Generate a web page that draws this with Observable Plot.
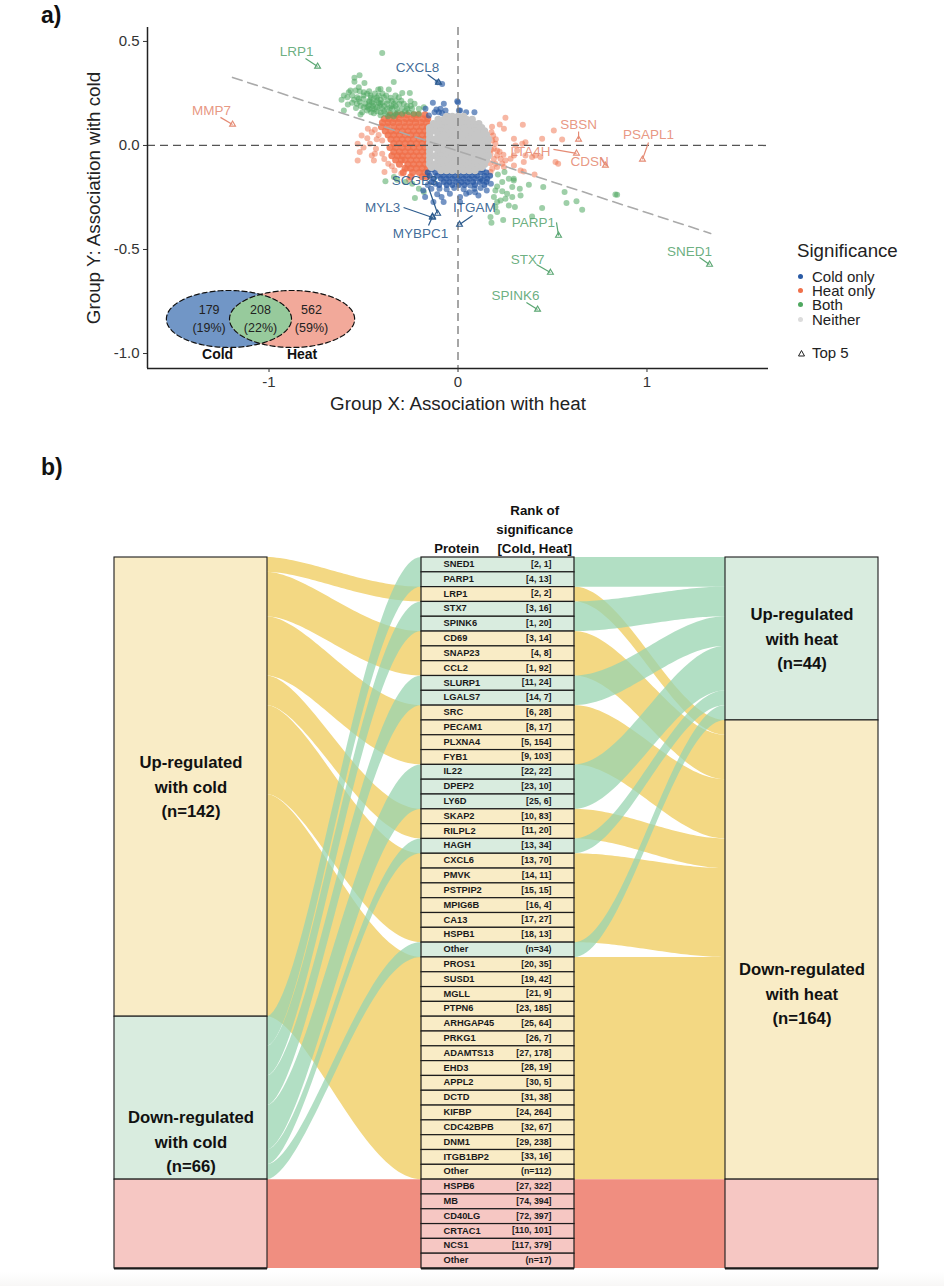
<!DOCTYPE html>
<html><head><meta charset="utf-8">
<script src="https://cdn.jsdelivr.net/npm/d3@7"></script>
<script src="https://cdn.jsdelivr.net/npm/@observablehq/plot@0.6"></script>
<style>
html,body{margin:0;padding:0;background:#fff;font-family:"Liberation Sans",Arial,sans-serif;}
#page{position:relative;width:944px;height:1286px;overflow:hidden;}
#page svg{display:block;}
.head{position:absolute;left:41px;font-weight:bold;font-size:23px;color:#111;line-height:1;}
#legend{position:absolute;left:797px;top:241px;color:#222;font-size:15px;}
#legend .t{font-size:18.7px;line-height:20px;margin-bottom:9px;}
#legend .r{height:14.2px;line-height:14px;position:relative;padding-left:15px;white-space:nowrap;}
#legend .r i{position:absolute;left:1px;top:4px;width:5px;height:5px;border-radius:50%;}
#fade{position:absolute;left:0;right:0;top:1272px;height:14px;background:linear-gradient(#fff,#f8f7f6);}
</style></head><body>
<div id="page">
<div id="fade"></div>
<div id="a"></div><div id="b"></div>
<div class="head" style="top:4px">a)</div>
<div class="head" style="top:456px">b)</div>
<div id="legend">
 <div class="t">Significance</div>
 <div class="r"><i style="background:#2a5aa5"></i>Cold only</div>
 <div class="r"><i style="background:#f0704a"></i>Heat only</div>
 <div class="r"><i style="background:#4fa860"></i>Both</div>
 <div class="r"><i style="background:#dcdcdc"></i>Neither</div>
 <div class="r" style="margin-top:19px"><svg width="9" height="9" style="position:absolute;left:0;top:3px"><polygon points="4.5,1.5 7.5,7 1.5,7" fill="none" stroke="#222"/></svg>Top 5</div>
</div>
</div>
<script>
// ---------- panel a: points, [x, y] ----------
const bothPoints = [[-.401,.445],[-.521,.337],[-.548,.325],[-.548,.306],[-.495,.3],[-.34,.305],[-.41,.272],[-.422,.269],[-.366,.269],[-.525,.28],[-.569,.264],[-.578,.256],[-.604,.24],[-.616,.22],[-.586,.232],[-.542,.264],[-.498,.256],[-.481,.248],[-.463,.24],[-.445,.224],[-.525,.224],[-.533,.232],[-.583,.197],[-.604,.168],[-.392,.232],[-.357,.229],[-.331,.24],[-.295,.252],[-.255,.252],[-.313,.232],[-.287,.2],[-.251,.212],[-.428,.216],[-.41,.2],[-.375,.2],[-.34,.2],[-.498,.184],[-.472,.192],[-.445,.2],[-.507,.16],[-.481,.168],[-.454,.176],[-.428,.184],[-.401,.176],[-.375,.176],[-.348,.176],[-.322,.176],[-.295,.176],[-.269,.176],[-.243,.176],[-.207,.176],[-.181,.184],[-.516,.149],[-.445,.155],[-.41,.16],[-.384,.152],[-.357,.155],[-.331,.152],[-.295,.152],[-.26,.16],[-.234,.152],[-.207,.152],[-.47,.215],[-.45,.19],[-.41,.22],[-.39,.19],[-.36,.18],[-.32,.16],[-.43,.165],[-.39,.165],[-.28,.165],[-.47,.21],[-.46,.16],
 [-.55,.22],[-.56,.205],[-.535,.2],[-.52,.21],[-.5,.225],[-.49,.2],[-.515,.19],[-.54,.18],[-.56,.24],[-.52,.26],[-.5,.24],[-.47,.26],[-.44,.25],[-.42,.24],[-.4,.25],[-.38,.24],[-.35,.215],[-.33,.215],[-.43,.23],[-.46,.23],[-.48,.185],[-.47,.175],[-.44,.175],[-.415,.19],[-.4,.205],[-.37,.215],[-.35,.19],[-.33,.19],[-.31,.2],[-.3,.215],[-.27,.19],[-.25,.19],[-.23,.2],[-.41,.145],[-.37,.14],[-.34,.14],[-.42,.205],[-.455,.205],
 [.211,-.14],[.246,-.128],[.269,-.16],[.295,-.16],[.295,-.168],[.234,-.176],[.207,-.197],[.198,-.216],[.234,-.22],[.287,-.2],[.327,-.208],[.375,-.189],[.451,-.2],[.564,-.224],[.627,-.268],[.574,-.276],[.657,-.309],[.833,-.236],[.842,-.237],[.331,-.24],[.287,-.248],[.251,-.256],[.225,-.264],[.207,-.272],[.198,-.296],[.269,-.288],[.301,-.296],[.445,-.3],[.207,-.32],[.172,-.344],[.177,-.372],[.239,-.358],[.392,-.342],[.19,-.248],[.26,-.232],
 [-.384,-.172],[-.339,-.152],[-.322,-.165],[-.207,-.208],[-.181,-.224],[-.228,-.252],[-.278,-.176],[-.242,-.184]];
const heatSparse = [[-.477,.08],[-.456,.064],[-.51,.048],[-.531,.008],[-.466,.008],[-.434,-.016],[-.401,.024],[-.52,-.032],[-.456,-.048],[-.531,-.072],[-.445,-.072],[-.369,-.088],[-.401,-.04],[-.336,-.12],[-.271,-.112],[-.389,-.128],[-.44,.075],[-.42,.05],[-.43,.03],[-.48,.035],[-.5,-.01],[-.44,-.04],[-.39,-.065],[-.35,-.1],[-.3,-.135],[-.26,-.165],
 [.251,.133],[.221,.101],[.243,.08],[.343,.099],[.177,.064],[.186,.048],[.181,.024],[.198,.008],[.19,-.016],[.207,-.024],[.172,-.04],[.207,-.048],[.19,-.064],[.225,-.064],[.251,-.072],[.278,-.064],[.296,-.048],[.296,.032],[.304,0],[.313,-.024],[.34,.008],[.357,.016],[.198,-.088],[.234,-.088],[.181,-.112],[.172,-.128],[.207,-.104],[.243,-.104],[.296,-.096],[.348,-.08],[.357,-.048],[.392,-.056],[.41,-.048],[.436,-.056],[.445,.032],[.507,.072],[.551,.029],[.516,-.08],[.53,-.088],[.331,-.12],[.348,-.125],[.405,-.14],[.18,.09],[.2,.03],[.175,-.02],[.17,-.085],[.22,-.03],[.24,-.045]];
const heatDenseRows = [[.148,[-.36,-.325,-.3,-.27,-.235,-.21,-.175]],[.128,[-.39,-.365,-.335,-.31,-.275,-.245,-.22,-.185,-.16]],[.11,[-.4,-.37,-.345,-.315,-.285,-.255,-.225,-.195,-.165]],[.09,[-.405,-.375,-.34,-.31,-.28,-.25,-.22,-.19,-.16]],[.07,[-.385,-.355,-.325,-.295,-.265,-.235,-.205,-.175]],[.05,[-.37,-.34,-.31,-.28,-.25,-.22,-.19,-.16]],[.03,[-.355,-.325,-.295,-.265,-.235,-.205,-.175]],[.01,[-.34,-.31,-.28,-.25,-.22,-.19,-.16]],[-.01,[-.36,-.33,-.295,-.265,-.235,-.205,-.175]],[-.03,[-.34,-.31,-.28,-.25,-.22,-.19,-.16]],[-.05,[-.35,-.32,-.295,-.265,-.235,-.205,-.175]],[-.07,[-.33,-.3,-.28,-.25,-.22,-.19,-.16]],[-.09,[-.31,-.265,-.235,-.205,-.175]],[-.11,[-.28,-.25,-.22,-.19,-.16]],[-.13,[-.29,-.24,-.205,-.175]],[-.15,[-.25,-.19,-.165]]];
const coldSparse = [[-.174,-.248],[-.13,-.272],[-.087,-.248],[-.043,-.232],[.011,-.248],[.043,-.232],[.108,-.24],[.152,-.216],[-.076,-.272],[.011,-.272],[-.141,-.208],[-.098,-.208],[-.184,-.216],[.087,-.208],[.13,-.168],[.174,-.184],[-.119,-.184],[.065,-.192],[-.16,-.19],[-.06,-.21],[-.02,-.205],[.03,-.21],[.12,-.205],[.06,-.225],[-.11,-.235],[.09,-.225],
 [-.133,.205],[-.075,.2],[-.004,.212],[-.114,.173],[-.093,.176],[-.066,.168],[-.124,.16],[-.101,.16],[-.084,.155],[-.172,.176],[-.154,.144],[-.057,.144],[-.04,.136],[.005,.168],[-.084,.296],[-.107,.304],[.011,.168],[.043,.16],[.087,.16],[0,.208]];
const coldDenseRows = [[-.115,[-.14,-.09,-.05,-.02,.01,.04,.07,.1,.13]],[-.13,[-.16,-.12,-.09,-.06,-.03,0,.03,.06,.09,.12,.15]],[-.145,[-.15,-.11,-.08,-.05,-.02,.01,.04,.07,.1,.14,.17]],[-.16,[-.13,-.09,-.06,-.03,0,.03,.06,.09,.12,.155]],[-.175,[-.14,-.075,-.045,-.01,.02,.05,.08,.115,.15]],[-.19,[-.1,-.06,-.03,.005,.035,.09,.14]]];
const neitherRows = [[.14,[-.06,-.03,0,.03]],[.125,[-.105,-.075,-.045,-.015,.015,.045,.075]],[.105,[-.13,-.1,-.07,-.04,-.01,.02,.05,.08,.11]],[.085,[-.15,-.115,-.085,-.055,-.025,.005,.035,.065,.095,.125]],[.07,[-.15,-.12,-.09,-.06,-.03,0,.03,.06,.09,.12,.14]],[.05,[-.15,-.105,-.075,-.045,-.015,.015,.045,.075,.105,.135,.15]],[.03,[-.15,-.12,-.09,-.06,-.03,0,.03,.06,.09,.12,.15,.16]],[.01,[-.15,-.105,-.075,-.045,-.015,.015,.045,.075,.105,.135,.155]],[-.01,[-.15,-.12,-.09,-.06,-.03,0,.03,.06,.09,.12,.15,.16]],[-.03,[-.15,-.105,-.075,-.045,-.015,.015,.045,.075,.105,.135,.155]],[-.05,[-.15,-.12,-.09,-.06,-.03,0,.03,.06,.09,.12,.15,.16]],[-.07,[-.15,-.105,-.075,-.045,-.015,.015,.045,.075,.105,.135,.15]],[-.09,[-.15,-.12,-.09,-.06,-.03,0,.03,.06,.09,.12,.14]],[-.105,[-.14,-.105,-.075,-.045,-.015,.015,.045,.075,.105,.125]],[-.12,[-.09,-.06,-.03,0,.03,.06,.09]]];
// labelled top-5 proteins
const topNames = ["LRP1","MMP7","CXCL8","SBSN","PSAPL1","LTA4H","CDSN","SCGB3","MYL3","MYBPC1","ITGAM","PARP1","STX7","SPINK6","SNED1"];
const topGroup = ["both","heat","cold","heat","heat","heat","heat","cold","cold","cold","cold","both","both","both","both"];
const topX = [-.743,-1.193,-.103,.638,.976,.627,.78,-.108,-.135,-.135,.008,.532,.489,.421,1.331];
const topY = [.38,.101,.303,.029,-.067,-.038,-.096,-.327,-.346,-.341,-.38,-.433,-.611,-.788,-.572];
const labelX = [-.854,-1.304,-.214,.638,1.008,.384,.696,-.23,-.399,-.198,.087,.399,.368,.304,1.225];
const labelY = [.452,.168,.375,.101,.053,-.029,-.077,-.168,-.298,-.423,-.298,-.37,-.548,-.721,-.51];
const leaderX = [-.807,-1.257,-.161,.638,1.008,.505,.754,-.156,-.288,-.156,.077,.521,.415,.362,1.278];
const leaderY = [.418,.135,.341,.067,.014,-.019,-.058,-.202,-.298,-.385,-.337,-.37,-.572,-.755,-.538];
const trendX = [-1.193,1.337], trendY = [.327,-.423];
// venn
const vennCx = [-1.212,-.878], vennRx = .331, vennCy = -.834, vennRy = .137;
const vennNumbers = ["179","208","562"], vennPct = ["(19%)","(22%)","(59%)"], vennNames = ["Cold","Heat"];
const vennTextX = [-1.317,-1.045,-.775], vennNameX = [-1.272,-.825];
const vennNumY = -.79, vennPctY = -.877, vennNameY = -1.007;

const groupColor = {both:"#4fa860",heat:"#f0704a",cold:"#2a5aa5"};
const labelColor = {both:"#5aa672",heat:"#e58b74",cold:"#2b5a8c"};
const expand = rows => rows.flatMap(([y,xs]) => xs.map(x => [x,y]));
const tops = topNames.map((n,i)=>({n,g:topGroup[i],x:topX[i],y:topY[i],lx:labelX[i],ly:labelY[i],sx:leaderX[i],sy:leaderY[i]}));
const deg = d3.range(0,361,2).map(d=>d*Math.PI/180);
const ell = k => deg.map(t=>({x:vennCx[k]+vennRx*Math.cos(t),y:vennCy+vennRy*Math.sin(t)}));
const inside = (p,k)=>((p.x-vennCx[k])/vennRx)**2+((p.y-vennCy)/vennRy)**2<=1;
const a1 = d3.range(-90,91,2).map(d=>d*Math.PI/180).map(t=>({x:vennCx[0]+vennRx*Math.cos(t),y:vennCy+vennRy*Math.sin(t)})).filter(p=>inside(p,1));
const a2 = d3.range(90,271,2).map(d=>d*Math.PI/180).map(t=>({x:vennCx[1]+vennRx*Math.cos(t),y:vennCy+vennRy*Math.sin(t)})).filter(p=>inside(p,0));
const lens = [...a1,...a2,a1[0]];
const R = 3;
const font = {fontFamily:"'Liberation Sans',Arial,sans-serif",background:"transparent"};
const X0=-1.643,Y0=-1.072;
const plotA = Plot.plot({
  width:944,height:430,marginLeft:147,marginRight:176,marginTop:27,marginBottom:62,
  x:{domain:[X0,1.643],axis:null},y:{domain:[Y0,.567],axis:null},style:font,
  marks:[
    Plot.dot(heatSparse,{x:d=>d[0],y:d=>d[1],r:R,fill:groupColor.heat,fillOpacity:.5}),
    Plot.dot(expand(heatDenseRows),{x:d=>d[0],y:d=>d[1],r:R+.5,fill:groupColor.heat,fillOpacity:.85}),
    Plot.dot(bothPoints,{x:d=>d[0],y:d=>d[1],r:R,fill:groupColor.both,fillOpacity:.55}),
    Plot.dot(coldSparse,{x:d=>d[0],y:d=>d[1],r:R,fill:groupColor.cold,fillOpacity:.65}),
    Plot.dot(expand(coldDenseRows),{x:d=>d[0],y:d=>d[1],r:R,fill:groupColor.cold,fillOpacity:.8}),
    Plot.dot(expand(neitherRows),{x:d=>d[0],y:d=>d[1],r:R+.7,fill:"#c6c6c6"}),
    Plot.ruleY([0],{stroke:"#555",strokeDasharray:"8,5",strokeWidth:1.3}),
    Plot.ruleX([0],{stroke:"#777",strokeDasharray:"8,5",strokeWidth:1.3}),
    Plot.line(trendX.map((x,i)=>({x,y:trendY[i]})),{x:"x",y:"y",stroke:"#aaa",strokeWidth:1.6,strokeDasharray:"10,6"}),
    Plot.link(tops,{x1:"sx",y1:"sy",x2:"x",y2:"y",stroke:d=>labelColor[d.g],strokeWidth:1.2}),
    Plot.dot(tops,{x:"x",y:"y",symbol:"triangle",r:2.2,fill:"none",stroke:d=>labelColor[d.g],strokeWidth:1.1}),
    Plot.text(tops,{x:"lx",y:"ly",text:"n",fill:d=>labelColor[d.g],fontSize:13.5,fillOpacity:.9}),
    // venn
    Plot.line(ell(0),{x:"x",y:"y",fill:"#7196c6",stroke:"none"}),
    Plot.line(ell(1),{x:"x",y:"y",fill:"#f2a99a",stroke:"none"}),
    Plot.line(lens,{x:"x",y:"y",fill:"#97ca9c",stroke:"none"}),
    Plot.line(ell(0),{x:"x",y:"y",stroke:"#111",strokeWidth:1.2,strokeDasharray:"5,3"}),
    Plot.line(ell(1),{x:"x",y:"y",stroke:"#111",strokeWidth:1.2,strokeDasharray:"5,3"}),
    Plot.text(vennNumbers,{x:(d,i)=>vennTextX[i],y:()=>vennNumY,text:d=>d,fontSize:12.5,fill:"#222"}),
    Plot.text(vennPct,{x:(d,i)=>vennTextX[i],y:()=>vennPctY,text:d=>d,fontSize:12.5,fill:"#222"}),
    Plot.text(vennNames,{x:(d,i)=>vennNameX[i],y:()=>vennNameY,text:d=>d,fontSize:14,fontWeight:"bold",fill:"#111"}),
    // axes
    Plot.ruleX([X0],{stroke:"#222",strokeWidth:1.5}),
    Plot.ruleY([Y0],{stroke:"#222",strokeWidth:1.5}),
    Plot.axisX({ticks:[-1,0,1],tickFormat:d=>String(d),label:null,tickSize:4,fontSize:15,tickPadding:4,color:"#333"}),
    Plot.axisY({ticks:[-1,-.5,0,.5],tickFormat:d=>d.toFixed(1),label:null,tickSize:4,fontSize:15,tickPadding:4,color:"#333"}),
    Plot.text(["Group X: Association with heat"],{frameAnchor:"bottom",dy:35,lineAnchor:"middle",fontSize:18.8,fill:"#222"}),
    Plot.text(["Group Y: Association with cold"],{frameAnchor:"left",dx:-54,rotate:-90,textAnchor:"middle",fontSize:18.8,fill:"#222"})
  ]
});
document.getElementById("a").append(plotA);

// ---------- panel b ----------
const proteins = ["SNED1","PARP1","LRP1","STX7","SPINK6","CD69","SNAP23","CCL2","SLURP1","LGALS7","SRC","PECAM1","PLXNA4","FYB1","IL22","DPEP2","LY6D","SKAP2","RILPL2","HAGH","CXCL6","PMVK","PSTPIP2","MPIG6B","CA13","HSPB1","Other","PROS1","SUSD1","MGLL","PTPN6","ARHGAP45","PRKG1","ADAMTS13","EHD3","APPL2","DCTD","KIFBP","CDC42BPB","DNM1","ITGB1BP2","Other","HSPB6","MB","CD40LG","CRTAC1","NCS1","Other"];
const ranks = ["[2, 1]","[4, 13]","[2, 2]","[3, 16]","[1, 20]","[3, 14]","[4, 8]","[1, 92]","[11, 24]","[14, 7]","[6, 28]","[8, 17]","[5, 154]","[9, 103]","[22, 22]","[23, 10]","[25, 6]","[10, 83]","[11, 20]","[13, 34]","[13, 70]","[14, 11]","[15, 15]","[16, 4]","[17, 27]","[18, 13]","(n=34)","[20, 35]","[19, 42]","[21, 9]","[23, 185]","[25, 64]","[26, 7]","[27, 178]","[28, 19]","[30, 5]","[31, 38]","[24, 264]","[32, 67]","[29, 238]","[33, 16]","(n=112)","[27, 322]","[74, 394]","[72, 397]","[110, 101]","[117, 379]","(n=17)"];
// g = down with cold & up with heat, y = up with cold & down with heat, r = neither
const greenRows = ["SNED1","PARP1","STX7","SPINK6","SLURP1","LGALS7","IL22","DPEP2","LY6D","HAGH"];
const rowKind = proteins.map((p,i)=> i>=42 ? "r" : (greenRows.includes(p) || i===26) ? "g" : "y");
const leftBlocks = [{a:0,b:31,f:"#f9ecc6"},{a:31,b:42,f:"#d9ecdf"},{a:42,b:48,f:"#f6c7c3"}];
const rightBlocks = [{a:0,b:11,f:"#d9ecdf"},{a:11,b:42,f:"#f9ecc6"},{a:42,b:48,f:"#f6c7c3"}];
const blockText = ["Up-regulated\nwith cold\n(n=142)","Down-regulated\nwith cold\n(n=66)","Up-regulated\nwith heat\n(n=44)","Down-regulated\nwith heat\n(n=164)"];
const blockTextX = [.5,.5,4.5,4.5], blockTextY = [15.36,39.33,5.37,29.33];
const rowFill = {g:"#d9ecdf",y:"#f9ecc6",r:"#f6c7c3"};

// contiguous runs of rows of one kind
const runs = [];
rowKind.forEach((k,i)=>{ const l=runs[runs.length-1]; if(l&&l.k===k) l.n++; else runs.push({k,row:i,n:1}); });
let nextL={y:0,g:31,r:42}, nextR={g:0,y:11,r:42};
runs.forEach(r=>{r.l=nextL[r.k];r.r=nextR[r.k];nextL[r.k]+=r.n;nextR[r.k]+=r.n;});
const s = t => t*t*(3-2*t);
const ts = d3.range(0,1.0001,1/48);
const ribbons = [];
runs.forEach((r,ri)=>ts.forEach(t=>{
  const e=s(t), el=s(Math.pow(t,.88));
  ribbons.push({id:"L"+ri,k:r.k,x:1+t,y1:r.l+(r.row-r.l)*el,y2:r.l+r.n+(r.row-r.l)*el});
  ribbons.push({id:"R"+ri,k:r.k,x:3+t,y1:r.row+(r.r-r.row)*e,y2:r.row+r.n+(r.r-r.row)*e});
}));
const rows = proteins.map((p,i)=>({p,rank:ranks[i],k:rowKind[i],i}));
const edge = "#1c1c1c";
const blockRect = (data,x1,x2)=>Plot.rect(data,{x1:()=>x1,x2:()=>x2,y1:"a",y2:"b",fill:"f",stroke:edge,strokeWidth:1.1});
const plotB = Plot.plot({
  width:944,height:856,margin:0,
  x:{type:"linear",domain:[0,1,2,3,4,5],range:[114,267,421,574,725,878],axis:null},
  y:{domain:[0,48],range:[127,838],axis:null},style:font,
  marks:[
    Plot.area(ribbons.filter(d=>d.k==="y"),{x1:"x",y1:"y1",y2:"y2",z:"id",fill:"#f3d883"}),
    Plot.area(ribbons.filter(d=>d.k==="r"),{x1:"x",y1:"y1",y2:"y2",z:"id",fill:"#f08e80"}),
    Plot.area(ribbons.filter(d=>d.k==="g"),{x1:"x",y1:"y1",y2:"y2",z:"id",fill:"#98d4b0",fillOpacity:.75}),
    blockRect(leftBlocks,0,1),
    blockRect(rightBlocks,4,5),
    Plot.rect(rows,{x1:()=>2,x2:()=>3,y1:"i",y2:d=>d.i+1,fill:d=>rowFill[d.k],stroke:edge,strokeWidth:1.2}),
    Plot.ruleY([48],{x1:()=>0,x2:()=>1,stroke:edge,strokeWidth:2}),
    Plot.ruleY([48],{x1:()=>2,x2:()=>3,stroke:edge,strokeWidth:2}),
    Plot.ruleY([48],{x1:()=>4,x2:()=>5,stroke:edge,strokeWidth:2}),
    Plot.text(rows,{x:()=>2.144,y:d=>d.i+.44,text:"p",textAnchor:"start",fontSize:9.3,fontWeight:"bold",fill:"#1a1a1a"}),
    Plot.text(rows,{x:()=>2.85,y:d=>d.i+.44,text:"rank",textAnchor:"end",fontSize:8.8,fontWeight:"bold",fill:"#1a1a1a"}),
    Plot.text(blockText,{x:(d,i)=>blockTextX[i],y:(d,i)=>blockTextY[i],text:d=>d,fontSize:16.7,fontWeight:"bold",lineHeight:1.46,fill:"#111"}),
    Plot.text(["Protein"],{x:()=>2.23,y:()=>-.6,text:d=>d,fontSize:13,fontWeight:"bold",fill:"#111"}),
    Plot.text(["Rank of\nsignificance\n[Cold, Heat]"],{x:()=>2.74,y:()=>-2.0,text:d=>d,fontSize:13.3,fontWeight:"bold",lineHeight:1.43,fill:"#111"})
  ]
});
document.getElementById("b").append(plotB);
</script>
</body></html>
